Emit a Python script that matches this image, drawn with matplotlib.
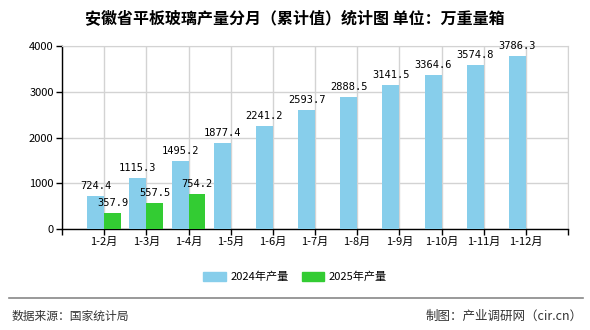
import matplotlib
matplotlib.use("Agg")
import matplotlib.pyplot as plt
from matplotlib.patches import Patch

plt.rcParams['font.family'] = ['Noto Sans CJK SC', 'DejaVu Sans']

categories = ["1-2月", "1-3月", "1-4月", "1-5月", "1-6月", "1-7月", "1-8月",
              "1-9月", "1-10月", "1-11月", "1-12月"]
v2024 = [724.4, 1115.3, 1495.2, 1877.4, 2241.2, 2593.7, 2888.5, 3141.5, 3364.6, 3574.8, 3786.3]
v2025 = [357.9, 557.5, 754.2]
yticks = [0, 1000, 2000, 3000, 4000]

fig = plt.figure(figsize=(5.9, 3.3), dpi=100)
ax = fig.add_axes([62/590, 1-229/330, (568-62)/590, (229-46)/330])

c24 = "#87CEEB"
c25 = "#33CC33"
w = 0.4
x24 = [i - w/2 for i in range(len(v2024))]
x25 = [i + w/2 for i in range(len(v2025))]
ax.bar(x24, v2024, width=w, color=c24, zorder=3)
ax.bar(x25, v2025, width=w, color=c25, zorder=3)

for x, v in zip(x24, v2024):
    ax.text(x, v + 110, f"{v:.1f}", ha="center", va="bottom", fontsize=7.5,
            family="DejaVu Sans Mono", zorder=4)
for x, v in zip(x25, v2025):
    ax.text(x, v + 110, f"{v:.1f}", ha="center", va="bottom", fontsize=7.5,
            family="DejaVu Sans Mono", zorder=4)

ax.set_xlim(-1, 11)
ax.set_ylim(0, 4000)
ax.set_yticks(yticks)
ax.set_yticklabels([str(t) for t in yticks], fontsize=8)
ax.set_xticks(list(range(-1, 12)))
ax.set_xticklabels([""] + categories + [""], fontsize=8)
ax.tick_params(axis="both", length=4, width=1, color="black", pad=2)
ax.grid(True, color="#d3d3d3", linewidth=1, zorder=0)
for s in ["top", "right"]:
    ax.spines[s].set_color("#d3d3d3")
for s in ["left", "bottom"]:
    ax.spines[s].set_color("black")
    ax.spines[s].set_linewidth(1.0)

fig.text(0.5, 1-18/330, "安徽省平板玻璃产量分月（累计值）统计图 单位：万重量箱",
         ha="center", va="center", fontsize=11.5, fontweight="bold")

handles = [Patch(color=c24, label="2024年产量"), Patch(color=c25, label="2025年产量")]
fig.legend(handles=handles, loc="center", bbox_to_anchor=(0.5, 1-277/330), ncol=2,
           frameon=False, fontsize=8, handlelength=2.0, handleheight=0.8,
           columnspacing=1.2, handletextpad=0.4)

fig.add_artist(plt.Line2D([9/590, 583/590], [1-298/330, 1-298/330],
                          color="#888888", linewidth=1.2, transform=fig.transFigure))
fig.text(12/590, 1-316/330, "数据来源：国家统计局", ha="left", va="center",
         fontsize=8.5, color="#333333")
fig.text(583/590, 1-316/330, "制图：产业调研网（cir.cn）", ha="right", va="center",
         fontsize=9, color="#333333")

fig.savefig("out.png", dpi=100)
